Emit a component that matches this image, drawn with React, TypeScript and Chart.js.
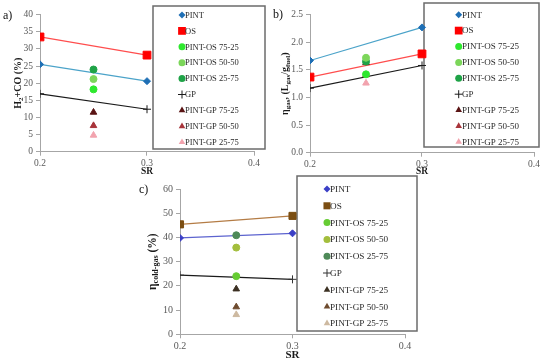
import React, { useEffect, useRef } from 'react';
import { Chart, registerables } from 'chart.js';

Chart.register(...registerables);

// ---------- data ----------
const SR_PURE = [0.2, 0.3];
const SR_MIX = 0.25;
const X_TICKS = [0.2, 0.3, 0.4];
const LEGEND_LABELS = ['PINT', 'OS', 'PINT-OS 75-25', 'PINT-OS 50-50', 'PINT-OS 25-75', 'GP', 'PINT-GP 75-25', 'PINT-GP 50-50', 'PINT-GP 25-75'];
const MIX_LABELS = ['PINT-OS 75-25', 'PINT-OS 50-50', 'PINT-OS 25-75', 'PINT-GP 75-25', 'PINT-GP 50-50', 'PINT-GP 25-75'];

// a) H2+CO (%)
const A_PINT = [25.5, 20.6];
const A_OS = [33.5, 28.2];
const A_GP = [16.9, 12.4];
const A_MIX = [18.2, 21.2, 24.0, 11.5, 7.6, 4.8];
const A_Y_TICKS = [0, 5, 10, 15, 20, 25, 30, 35, 40];

// b) gas yield (L/g)
const B_PINT = [1.67, 2.27];
const B_OS = [1.37, 1.79];
const B_GP = [1.17, 1.58];
const B_MIX = [1.42, 1.72, 1.65, 1.63, 1.41, 1.26];
const B_Y_TICKS = [0, 0.5, 1.0, 1.5, 2.0, 2.5];

// c) cold gas efficiency (%)
const C_PINT = [39.8, 41.7];
const C_OS = [45.4, 48.9];
const C_GP = [24.4, 22.7];
const C_MIX = [24.0, 35.8, 40.9, 18.7, 11.3, 8.1];
const C_Y_TICKS = [0, 10, 20, 30, 40, 50, 60];

// ---------- styles ----------
const STYLES_AB: any = {
  'PINT': { shape: 'rectRot', color: '#1F6FB5', line: '#4BA3C9', r: 3.5 },
  'OS': { shape: 'rect', color: '#FF0000', line: '#FF4D4D', r: 5.5 },
  'PINT-OS 75-25': { shape: 'circle', color: '#2EE82E', r: 3.5 },
  'PINT-OS 50-50': { shape: 'circle', color: '#7CD65A', r: 3.5 },
  'PINT-OS 25-75': { shape: 'circle', color: '#1FA347', r: 3.5 },
  'GP': { shape: 'cross', color: '#1a1a1a', line: '#1a1a1a', r: 4 },
  'PINT-GP 75-25': { shape: 'triangle', color: '#5A1414', r: 3.8 },
  'PINT-GP 50-50': { shape: 'triangle', color: '#A8343A', r: 3.8 },
  'PINT-GP 25-75': { shape: 'triangle', color: '#F2A3AE', r: 3.8 },
};
const STYLES_C: any = {
  'PINT': { shape: 'rectRot', color: '#3B3FC6', line: '#5C63CF', r: 3.5 },
  'OS': { shape: 'rect', color: '#7B4E12', line: '#B47C45', r: 5 },
  'PINT-OS 75-25': { shape: 'circle', color: '#66CC33', r: 3.5 },
  'PINT-OS 50-50': { shape: 'circle', color: '#A3BE3C', r: 3.5 },
  'PINT-OS 25-75': { shape: 'circle', color: '#4E8A58', r: 3.5 },
  'GP': { shape: 'cross', color: '#333333', line: '#1a1a1a', r: 4 },
  'PINT-GP 75-25': { shape: 'triangle', color: '#3B3022', r: 3.8 },
  'PINT-GP 50-50': { shape: 'triangle', color: '#6E4B2E', r: 3.8 },
  'PINT-GP 25-75': { shape: 'triangle', color: '#CDB9A0', r: 3.8 },
};

const SERIF = '"Liberation Serif", "Times New Roman", serif';

const PANELS: any[] = [
  {
    key: 'a', left: 0, top: 0, width: 272, height: 180,
    area: { left: 40, right: 254, top: 14.7, bottom: 151.7 },
    yMax: 40, yTicks: A_Y_TICKS, yDec: 0,
    pint: A_PINT, os: A_OS, gp: A_GP, mix: A_MIX, styles: STYLES_AB,
    legend: { left: 153, top: 6, right: 265, bottom: 149, firstY: 15, step: 15.9, markerX: 182, textX: 185, font: 8.5 },
    yTitle: [{ t: 'H' }, { t: '2', sub: true }, { t: '+CO (%)' }], yTitleX: 18, yTitleSize: 10,
    letter: { text: 'a)', x: 3, y: 16 }, srPad: 3, srSize: 9.5, tickSize: 9.5,
  },
  {
    key: 'b', left: 270, top: 0, width: 280, height: 180,
    area: { left: 40, right: 264, top: 14.7, bottom: 152.7 },
    yMax: 2.5, yTicks: B_Y_TICKS, yDec: 1,
    pint: B_PINT, os: B_OS, gp: B_GP, mix: B_MIX, styles: STYLES_AB,
    legend: { left: 154, top: 3, right: 269, bottom: 147, firstY: 14.7, step: 15.9, markerX: 188.7, textX: 192, font: 9 },
    yTitle: [{ t: 'η' }, { t: 'gas', sub: true }, { t: ', (L' }, { t: 'gas', sub: true }, { t: '/g' }, { t: 'fuel', sub: true }, { t: ')' }], yTitleX: 15, yTitleSize: 10,
    letter: { text: 'b)', x: 3, y: 15 }, srPad: 3, srSize: 9.5, tickSize: 9.5,
  },
  {
    key: 'c', left: 100, top: 172, width: 345, height: 191,
    area: { left: 80, right: 305, top: 17, bottom: 162.3 },
    yMax: 60, yTicks: C_Y_TICKS, yDec: 0,
    pint: C_PINT, os: C_OS, gp: C_GP, mix: C_MIX, styles: STYLES_C,
    legend: { left: 197, top: 4, right: 317, bottom: 159, firstY: 17, step: 16.8, markerX: 227, textX: 230, font: 9.2 },
    yTitle: [{ t: 'η' }, { t: 'cold-gas', sub: true }, { t: ' (%)' }], yTitleX: 52.7, yTitleSize: 11.5,
    letter: { text: 'c)', x: 39, y: 17.5 }, srPad: 1, srSize: 11, tickSize: 10,
  },
];

function drawMarker(ctx: CanvasRenderingContext2D, st: any, x: number, y: number) {
  const r = st.r;
  ctx.save();
  ctx.fillStyle = st.color;
  ctx.strokeStyle = st.color;
  ctx.lineWidth = 1;
  ctx.beginPath();
  if (st.shape === 'circle') {
    ctx.arc(x, y, r, 0, Math.PI * 2);
    ctx.fill();
  } else if (st.shape === 'rect') {
    const s = r * Math.SQRT1_2;
    ctx.rect(x - s, y - s, 2 * s, 2 * s);
    ctx.fill();
  } else if (st.shape === 'rectRot') {
    ctx.moveTo(x - r, y); ctx.lineTo(x, y - r); ctx.lineTo(x + r, y); ctx.lineTo(x, y + r);
    ctx.closePath();
    ctx.fill();
  } else if (st.shape === 'triangle') {
    let a = 0;
    ctx.moveTo(x + Math.sin(a) * r, y - Math.cos(a) * r);
    a += (2 * Math.PI) / 3;
    ctx.lineTo(x + Math.sin(a) * r, y - Math.cos(a) * r);
    a += (2 * Math.PI) / 3;
    ctx.lineTo(x + Math.sin(a) * r, y - Math.cos(a) * r);
    ctx.closePath();
    ctx.fill();
  } else if (st.shape === 'cross') {
    ctx.moveTo(x, y - r); ctx.lineTo(x, y + r);
    ctx.moveTo(x - r, y); ctx.lineTo(x + r, y);
    ctx.stroke();
  }
  ctx.restore();
}

function drawVerticalRich(ctx: CanvasRenderingContext2D, segs: any[], cx: number, cy: number, size: number) {
  ctx.save();
  ctx.translate(cx, cy);
  ctx.rotate(-Math.PI / 2);
  const big = `bold ${size}px ${SERIF}`;
  const small = `bold ${Math.round(size * 0.72)}px ${SERIF}`;
  let total = 0;
  const widths = segs.map((s) => {
    ctx.font = s.sub ? small : big;
    const w = ctx.measureText(s.t).width;
    total += w;
    return w;
  });
  let x = -total / 2;
  ctx.fillStyle = '#1a1a1a';
  ctx.textBaseline = 'middle';
  ctx.textAlign = 'left';
  segs.forEach((s, i) => {
    ctx.font = s.sub ? small : big;
    ctx.fillText(s.t, x, s.sub ? size * 0.3 : 0);
    x += widths[i];
  });
  ctx.restore();
}

function buildConfig(p: any): any {
  const S = p.styles;
  const datasets: any[] = [];
  const pure: [string, number[]][] = [['PINT', p.pint], ['OS', p.os], ['GP', p.gp]];
  MIX_LABELS.forEach((label, i) => {
    const st = S[label];
    datasets.push({
      label,
      data: [{ x: SR_MIX, y: p.mix[i] }],
      showLine: false,
      pointStyle: st.shape,
      pointRadius: st.r,
      pointHoverRadius: st.r,
      pointBackgroundColor: st.color,
      pointBorderColor: st.color,
      pointBorderWidth: 1,
      backgroundColor: st.color,
      borderColor: st.color,
    });
  });
  pure.forEach(([label, vals]) => {
    const st = S[label];
    datasets.push({
      label,
      data: SR_PURE.map((x, i) => ({ x, y: vals[i] })),
      showLine: true,
      borderColor: st.line,
      borderWidth: 1.2,
      pointStyle: st.shape,
      pointRadius: st.r,
      pointHoverRadius: st.r,
      pointBackgroundColor: st.color,
      pointBorderColor: st.color,
      pointBorderWidth: 1,
      backgroundColor: st.color,
    });
  });

  const overlay = {
    id: 'overlay_' + p.key,
    beforeDatasetsDraw(chart: any) {
      const ctx: CanvasRenderingContext2D = chart.ctx;
      const L = p.legend;
      ctx.save();
      ctx.fillStyle = '#ffffff';
      ctx.fillRect(L.left, L.top, L.right - L.left, L.bottom - L.top);
      ctx.strokeStyle = '#6b6b6b';
      ctx.lineWidth = 1.5;
      ctx.strokeRect(L.left, L.top, L.right - L.left, L.bottom - L.top);
      ctx.font = `${L.font}px ${SERIF}`;
      ctx.textBaseline = 'middle';
      ctx.textAlign = 'left';
      LEGEND_LABELS.forEach((label, i) => {
        const y = L.firstY + i * L.step;
        drawMarker(ctx, S[label], L.markerX, y);
        ctx.fillStyle = '#2a2a2a';
        ctx.fillText(label, L.textX, y + 0.5);
      });
      ctx.restore();
    },
    afterDraw(chart: any) {
      const ctx: CanvasRenderingContext2D = chart.ctx;
      const ca = chart.chartArea;
      drawVerticalRich(ctx, p.yTitle, p.yTitleX, (ca.top + ca.bottom) / 2, p.yTitleSize);
      ctx.save();
      ctx.font = `12px ${SERIF}`;
      ctx.fillStyle = '#111';
      ctx.textBaseline = 'middle';
      ctx.textAlign = 'left';
      ctx.fillText(p.letter.text, p.letter.x, p.letter.y);
      ctx.restore();
    },
  };

  const gridCfg = {
    display: true,
    drawOnChartArea: false,
    drawTicks: true,
    tickLength: 4,
    color: '#a6a6a6',
    lineWidth: 1,
  };

  return {
    type: 'scatter',
    data: { datasets },
    plugins: [overlay],
    options: {
      animation: false,
      responsive: false,
      maintainAspectRatio: false,
      events: [],
      layout: {
        autoPadding: false,
        padding: { left: 0, top: p.area.top, right: p.width - p.area.right, bottom: 0 },
      },
      plugins: { legend: { display: false }, tooltip: { enabled: false }, title: { display: false } },
      scales: {
        x: {
          type: 'linear',
          position: 'bottom',
          min: 0.2,
          max: 0.4,
          grid: gridCfg,
          border: { display: true, color: '#a6a6a6', width: 1 },
          afterBuildTicks: (scale: any) => { scale.ticks = X_TICKS.map((v) => ({ value: v })); },
          afterFit: (scale: any) => { scale.height = p.height - p.area.bottom; },
          ticks: {
            autoSkip: false,
            maxRotation: 0,
            padding: 2,
            color: '#595959',
            font: { family: SERIF, size: p.tickSize },
            callback: (v: any) => Number(v).toFixed(1),
          },
          title: {
            display: true,
            text: 'SR',
            color: '#1a1a1a',
            font: { family: SERIF, size: p.srSize, weight: 'bold' },
            padding: { top: 0, bottom: p.srPad },
          },
        },
        y: {
          type: 'linear',
          position: 'left',
          min: 0,
          max: p.yMax,
          grid: gridCfg,
          border: { display: true, color: '#a6a6a6', width: 1 },
          afterBuildTicks: (scale: any) => { scale.ticks = p.yTicks.map((v: number) => ({ value: v })); },
          afterFit: (scale: any) => { scale.width = p.area.left; },
          ticks: {
            autoSkip: false,
            padding: 3,
            color: '#595959',
            font: { family: SERIF, size: p.tickSize },
            callback: (v: any) => Number(v).toFixed(p.yDec),
          },
          title: { display: false },
        },
      },
    },
  };
}

function Panel({ p }: { p: any }) {
  const ref = useRef<HTMLCanvasElement>(null);
  useEffect(() => {
    const chart = new Chart(ref.current as HTMLCanvasElement, buildConfig(p));
    return () => chart.destroy();
  }, []);
  return (
    <div style={{ position: 'absolute', left: p.left, top: p.top, width: p.width, height: p.height }}>
      <canvas ref={ref} width={p.width} height={p.height} style={{ width: p.width, height: p.height, display: 'block' }} />
    </div>
  );
}

export default function App() {
  return (
    <div style={{ position: 'fixed', left: 0, top: 0, width: 550, height: 363, background: '#ffffff', overflow: 'hidden' }}>
      {PANELS.map((p) => (
        <Panel key={p.key} p={p} />
      ))}
    </div>
  );
}
